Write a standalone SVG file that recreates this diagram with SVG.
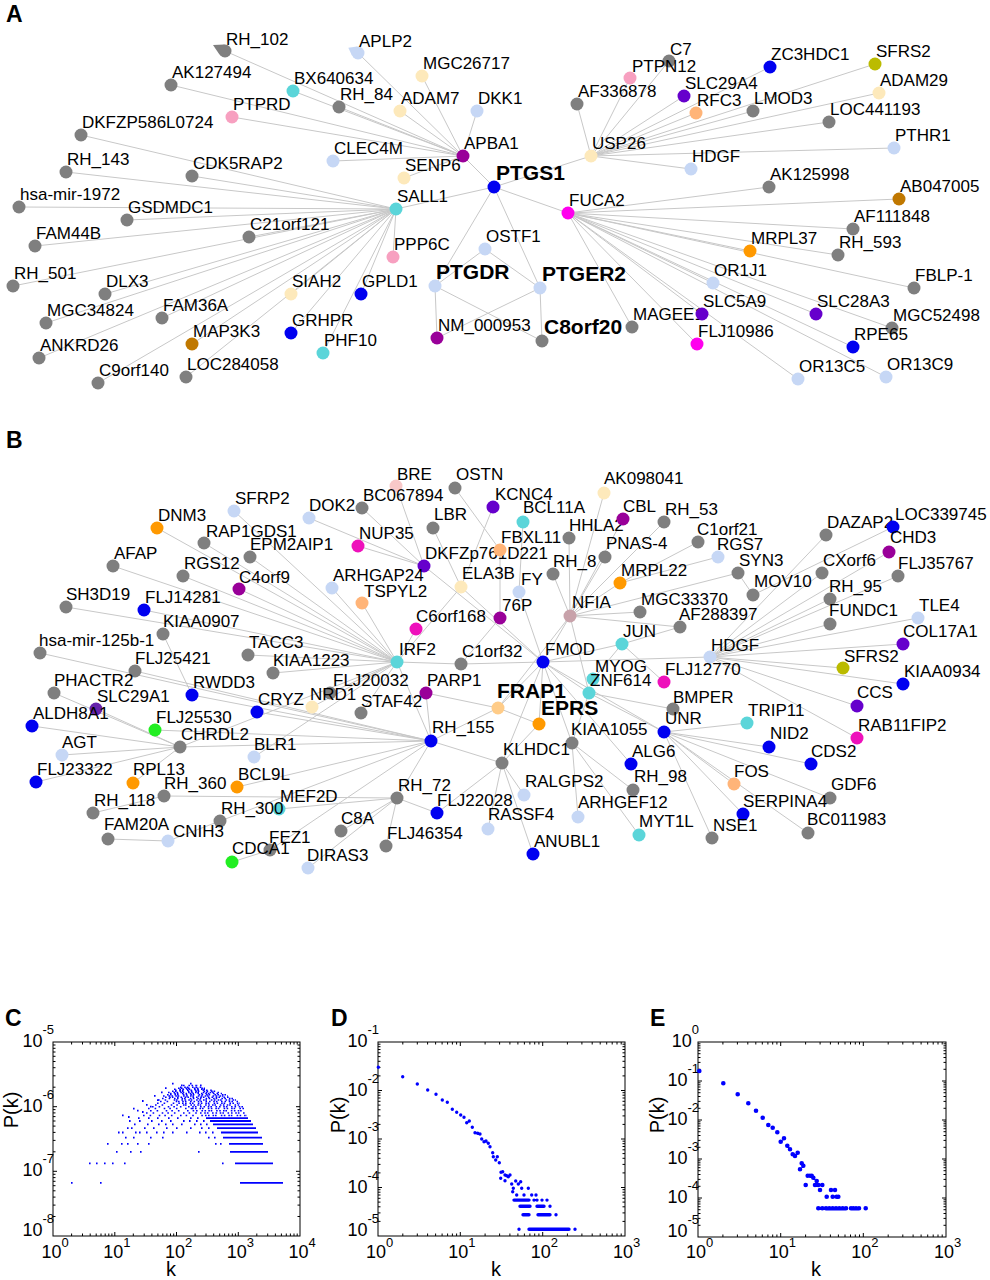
<svg xmlns="http://www.w3.org/2000/svg" width="990" height="1280" viewBox="0 0 990 1280">
<style>
text{font-family:"Liberation Sans",Arial,Helvetica,sans-serif;fill:#000}
.t{font-size:17px}
.b{font-size:21px;font-weight:bold}
.pl{font-size:23px;font-weight:bold}
.tk{font-size:18px}
.ex{font-size:13px}
.ax{font-size:20px}
.g{fill:#7f7f7f}.lb{fill:#c6d7f5}.cr{fill:#fde9bb}.cy{fill:#5bd5d9}.bl{fill:#0000f0}.pu{fill:#990099}.mg{fill:#ff00ee}.hp{fill:#ee11bb}.pk{fill:#f7a0c0}.or{fill:#ff9900}.br{fill:#c07800}.ol{fill:#bbbb00}.vi{fill:#6600cc}.v2{fill:#6622aa}.lo{fill:#ffb478}.fr{fill:#ffcc88}.gr{fill:#22ee22}.mv{fill:#c8a2aa}.lp{fill:#f8c8c8}
.e{fill:none;stroke:#c8c8c8;stroke-width:1}
.tick{fill:none;stroke:#000;stroke-width:1}
.box{fill:none;stroke:#000;stroke-width:1}
.dc{fill:none;stroke:#0000ff;stroke-width:1.8}
.c1{fill:none;stroke:#0000ff;stroke-width:1.5;stroke-dasharray:1.6 1.4 1.6 2.9 1.6 0.9 1.6 4.2}
.c2{fill:none;stroke:#0000ff;stroke-width:1.5;stroke-dasharray:1.6 2.6 1.6 1.1 1.6 3.5 1.6 1.9}
.c3{fill:none;stroke:#0000ff;stroke-width:1.5;stroke-dasharray:1.6 3.8 1.6 1.5 1.6 2.2 1.6 0.8}
.cs{fill:none;stroke:#0000ff;stroke-width:1.5;stroke-dasharray:1.6 5 1.6 7.5 1.6 4}
.dd{fill:none;stroke:#0000ff;stroke-width:3.4;stroke-linecap:round}
.de{fill:none;stroke:#0000ff;stroke-width:4.6;stroke-linecap:round}
</style>
<rect width="990" height="1280" fill="#fff"/>

<g id="connectors">
<path class="e" d="M463 156L225 51M463 156L358 53M463 156L422 76M463 156L171 85M463 156L293 91M463 156L339 107M463 156L400 111M463 156L477 111M463 156L232 117M463 156L333 161M463 156L404 178M463 156L494 187"/>
<path class="e" d="M396 209L81 135M396 209L66 172M396 209L192 176M396 209L19 207M396 209L127 220M396 209L35 246M396 209L249 237M396 209L13 286M396 209L105 294M396 209L46 323M396 209L162 318M396 209L39 358M396 209L98 383M396 209L186 377M396 209L192 344M396 209L291 294M396 209L291 333M396 209L323 353M396 209L361 294M396 209L393 257M396 209L494 187"/>
<path class="e" d="M494 187L591 156M494 187L568 213M494 187L435 286M494 187L540 288M485 249L435 286M485 249L540 288M435 286L437 338M435 286L542 341M540 288L437 338M540 288L542 341"/>
<path class="e" d="M591 156L577 104M591 156L669 61M591 156L630 78M591 156L684 96M591 156L770 67M591 156L696 113M591 156L753 111M591 156L875 64M591 156L879 93M591 156L829 122M591 156L894 148M591 156L691 169"/>
<path class="e" d="M568 213L769 187M568 213L899 199M568 213L853 229M568 213L750 251M568 213L838 255M568 213L914 288M568 213L713 283M568 213L702 314M568 213L816 314M568 213L892 328M568 213L853 347M568 213L798 379M568 213L886 377M568 213L697 344M568 213L632 327"/>
<path class="e" d="M397 662L157 528M397 662L234 511M397 662L204 543M397 662L113 566M397 662L183 576M397 662L239 589M397 662L66 607M397 662L144 610M397 662L248 655M397 662L273 673M397 662L416 629M397 662L362 603M397 662L461 587M397 662L332 588M397 662L461 664M397 662L250 557M397 662L312 707M397 662L361 713M397 662L330 693M397 662L180 747M397 662L254 757M397 662L431 741"/>
<path class="e" d="M431 741L40 653M431 741L135 671M431 741L192 695M431 741L257 712M431 741L155 730M431 741L180 747M431 741L426 693M431 741L498 708M431 741L220 821M431 741L270 850M431 741L397 798M431 741L502 763M431 741L237 787"/>
<path class="e" d="M180 747L32 726M180 747L62 755M180 747L36 782M180 747L96 709M180 747L54 693M180 747L133 783M192 695L163 634M164 796L93 813M164 796L397 798M397 798L279 809M397 798L341 831M397 798L386 846M397 798L437 813M397 798L308 868M220 821L168 841M168 841L108 839M270 850L232 862"/>
<path class="e" d="M424 566L309 518M424 566L358 546M424 566L362 508M424 566L396 486M424 566L543 662M461 587L433 528M461 587L493 507M461 587L543 662M500 550L455 488M500 550L500 618M523 522L519 592M519 592L543 662M500 618L461 664M461 664L543 662"/>
<path class="e" d="M570 616L569 538M570 616L604 493M570 616L623 519M570 616L664 522M570 616L605 557M570 616L620 583M570 616L553 574M570 616L640 612M570 616L680 627M570 616L738 573M570 616L543 662M570 616L498 708M570 616L589 693M620 583L698 542M620 583L718 557M738 573L753 595M753 595L893 527"/>
<path class="e" d="M543 662L710 657M543 662L622 644M543 662L498 708M543 662L539 724M543 662L589 693M543 662L664 732M543 662L502 763M543 662L572 743M543 662L631 764M622 644L593 679M622 644L680 627M622 644L664 682"/>
<path class="e" d="M710 657L826 535M710 657L889 552M710 657L822 573M710 657L898 576M710 657L830 599M710 657L830 624M710 657L918 618M710 657L903 644M710 657L843 668M710 657L903 684M710 657L857 706M710 657L857 738"/>
<path class="e" d="M589 693L673 709M589 693L572 743M664 732L747 723M664 732L769 747M664 732L811 764M664 732L734 784M664 732L830 798M664 732L743 814M664 732L808 833M664 732L712 838M664 732L589 693M572 743L633 790M572 743L578 817M572 743L639 835M502 763L524 795M502 763L488 829M502 763L533 854M502 763L437 813M502 763L539 724M426 693L498 708M498 708L539 724"/>
</g>

<text class="pl" x="6" y="22">A</text>
<g id="a-RH_102"><path class="g" d="M213 45L219.6 54.7L224.7 44.5Z"/><circle class="g" cx="225" cy="51" r="6.5"/><text class="t" x="226" y="45">RH_102</text></g>
<g id="a-APLP2"><path class="lb" d="M348.3 47.7L352.2 56L357.2 46.6Z"/><circle class="lb" cx="358" cy="53" r="6.5"/><text class="t" x="359" y="47">APLP2</text></g>
<g id="a-MGC26717"><circle class="cr" cx="422" cy="76" r="6.5"/><text class="t" x="423" y="69">MGC26717</text></g>
<g id="a-AK127494"><circle class="g" cx="171" cy="85" r="6.5"/><text class="t" x="172" y="78">AK127494</text></g>
<g id="a-BX640634"><circle class="cy" cx="293" cy="91" r="6.5"/><text class="t" x="294" y="84">BX640634</text></g>
<g id="a-RH_84"><circle class="g" cx="339" cy="107" r="6.5"/><text class="t" x="340" y="100">RH_84</text></g>
<g id="a-ADAM7"><circle class="cr" cx="400" cy="111" r="6.5"/><text class="t" x="401" y="104">ADAM7</text></g>
<g id="a-DKK1"><circle class="lb" cx="477" cy="111" r="6.5"/><text class="t" x="478" y="104">DKK1</text></g>
<g id="a-PTPRD"><circle class="pk" cx="232" cy="117" r="6.5"/><text class="t" x="233" y="110">PTPRD</text></g>
<g id="a-DKFZP586L0724"><circle class="g" cx="81" cy="135" r="6.5"/><text class="t" x="82" y="128">DKFZP586L0724</text></g>
<g id="a-CLEC4M"><circle class="lb" cx="333" cy="161" r="6.5"/><text class="t" x="334" y="154">CLEC4M</text></g>
<g id="a-APBA1"><circle class="pu" cx="463" cy="156" r="6.5"/><text class="t" x="464" y="149">APBA1</text></g>
<g id="a-RH_143"><circle class="g" cx="66" cy="172" r="6.5"/><text class="t" x="67" y="165">RH_143</text></g>
<g id="a-CDK5RAP2"><circle class="g" cx="192" cy="176" r="6.5"/><text class="t" x="193" y="169">CDK5RAP2</text></g>
<g id="a-SENP6"><circle class="cr" cx="404" cy="178" r="6.5"/><text class="t" x="405" y="171">SENP6</text></g>
<g id="a-PTGS1"><circle class="bl" cx="494" cy="187" r="6.5"/><text class="b" x="496" y="180">PTGS1</text></g>
<g id="a-hsa-mir-1972"><circle class="g" cx="19" cy="207" r="6.5"/><text class="t" x="20" y="200">hsa-mir-1972</text></g>
<g id="a-GSDMDC1"><circle class="g" cx="127" cy="220" r="6.5"/><text class="t" x="128" y="213">GSDMDC1</text></g>
<g id="a-SALL1"><circle class="cy" cx="396" cy="209" r="6.5"/><text class="t" x="397" y="202">SALL1</text></g>
<g id="a-FAM44B"><circle class="g" cx="35" cy="246" r="6.5"/><text class="t" x="36" y="239">FAM44B</text></g>
<g id="a-C21orf121"><circle class="g" cx="249" cy="237" r="6.5"/><text class="t" x="250" y="230">C21orf121</text></g>
<g id="a-PPP6C"><circle class="pk" cx="393" cy="257" r="6.5"/><text class="t" x="394" y="250">PPP6C</text></g>
<g id="a-OSTF1"><circle class="lb" cx="485" cy="249" r="6.5"/><text class="t" x="486" y="242">OSTF1</text></g>
<g id="a-RH_501"><circle class="g" cx="13" cy="286" r="6.5"/><text class="t" x="14" y="279">RH_501</text></g>
<g id="a-DLX3"><circle class="g" cx="105" cy="294" r="6.5"/><text class="t" x="106" y="287">DLX3</text></g>
<g id="a-SIAH2"><circle class="cr" cx="291" cy="294" r="6.5"/><text class="t" x="292" y="287">SIAH2</text></g>
<g id="a-GPLD1"><circle class="bl" cx="361" cy="294" r="6.5"/><text class="t" x="362" y="287">GPLD1</text></g>
<g id="a-PTGDR"><circle class="lb" cx="435" cy="286" r="6.5"/><text class="b" x="436" y="279">PTGDR</text></g>
<g id="a-MGC34824"><circle class="g" cx="46" cy="323" r="6.5"/><text class="t" x="47" y="316">MGC34824</text></g>
<g id="a-FAM36A"><circle class="g" cx="162" cy="318" r="6.5"/><text class="t" x="163" y="311">FAM36A</text></g>
<g id="a-GRHPR"><circle class="bl" cx="291" cy="333" r="6.5"/><text class="t" x="292" y="326">GRHPR</text></g>
<g id="a-NM_000953"><circle class="pu" cx="437" cy="338" r="6.5"/><text class="t" x="438" y="331">NM_000953</text></g>
<g id="a-MAP3K3"><circle class="br" cx="192" cy="344" r="6.5"/><text class="t" x="193" y="337">MAP3K3</text></g>
<g id="a-PHF10"><circle class="cy" cx="323" cy="353" r="6.5"/><text class="t" x="324" y="346">PHF10</text></g>
<g id="a-ANKRD26"><circle class="g" cx="39" cy="358" r="6.5"/><text class="t" x="40" y="351">ANKRD26</text></g>
<g id="a-C9orf140"><circle class="g" cx="98" cy="383" r="6.5"/><text class="t" x="99" y="376">C9orf140</text></g>
<g id="a-LOC284058"><circle class="g" cx="186" cy="377" r="6.5"/><text class="t" x="187" y="370">LOC284058</text></g>
<g id="a-C7"><circle class="g" cx="669" cy="61" r="6.5"/><text class="t" x="670" y="55">C7</text></g>
<g id="a-PTPN12"><circle class="pk" cx="630" cy="78" r="6.5"/><text class="t" x="632" y="72">PTPN12</text></g>
<g id="a-ZC3HDC1"><circle class="bl" cx="770" cy="67" r="6.5"/><text class="t" x="771" y="60">ZC3HDC1</text></g>
<g id="a-SFRS2"><circle class="ol" cx="875" cy="64" r="6.5"/><text class="t" x="876" y="57">SFRS2</text></g>
<g id="a-SLC29A4"><circle class="vi" cx="684" cy="96" r="6.5"/><text class="t" x="685" y="89">SLC29A4</text></g>
<g id="a-AF336878"><circle class="g" cx="577" cy="104" r="6.5"/><text class="t" x="578" y="97">AF336878</text></g>
<g id="a-RFC3"><circle class="lo" cx="696" cy="113" r="6.5"/><text class="t" x="697" y="106">RFC3</text></g>
<g id="a-LMOD3"><circle class="g" cx="753" cy="111" r="6.5"/><text class="t" x="754" y="104">LMOD3</text></g>
<g id="a-ADAM29"><circle class="cr" cx="879" cy="93" r="6.5"/><text class="t" x="880" y="86">ADAM29</text></g>
<g id="a-LOC441193"><circle class="g" cx="829" cy="122" r="6.5"/><text class="t" x="830" y="115">LOC441193</text></g>
<g id="a-USP26"><circle class="cr" cx="591" cy="156" r="6.5"/><text class="t" x="592" y="149">USP26</text></g>
<g id="a-PTHR1"><circle class="lb" cx="894" cy="148" r="6.5"/><text class="t" x="895" y="141">PTHR1</text></g>
<g id="a-HDGF"><circle class="lb" cx="691" cy="169" r="6.5"/><text class="t" x="692" y="162">HDGF</text></g>
<g id="a-AK125998"><circle class="g" cx="769" cy="187" r="6.5"/><text class="t" x="770" y="180">AK125998</text></g>
<g id="a-AB047005"><circle class="br" cx="899" cy="199" r="6.5"/><text class="t" x="900" y="192">AB047005</text></g>
<g id="a-FUCA2"><circle class="mg" cx="568" cy="213" r="6.5"/><text class="t" x="569" y="206">FUCA2</text></g>
<g id="a-AF111848"><circle class="g" cx="853" cy="229" r="6.5"/><text class="t" x="854" y="222">AF111848</text></g>
<g id="a-MRPL37"><circle class="or" cx="750" cy="251" r="6.5"/><text class="t" x="751" y="244">MRPL37</text></g>
<g id="a-RH_593"><circle class="g" cx="838" cy="255" r="6.5"/><text class="t" x="839" y="248">RH_593</text></g>
<g id="a-OR1J1"><circle class="lb" cx="713" cy="283" r="6.5"/><text class="t" x="714" y="276">OR1J1</text></g>
<g id="a-PTGER2"><circle class="lb" cx="540" cy="288" r="6.5"/><text class="b" x="542" y="281">PTGER2</text></g>
<g id="a-FBLP-1"><circle class="g" cx="914" cy="288" r="6.5"/><text class="t" x="915" y="281">FBLP-1</text></g>
<g id="a-MAGEE1"><circle class="g" cx="632" cy="327" r="6.5"/><text class="t" x="633" y="320">MAGEE1</text></g>
<g id="a-SLC5A9"><circle class="vi" cx="702" cy="314" r="6.5"/><text class="t" x="703" y="307">SLC5A9</text></g>
<g id="a-SLC28A3"><circle class="vi" cx="816" cy="314" r="6.5"/><text class="t" x="817" y="307">SLC28A3</text></g>
<g id="a-MGC52498"><circle class="g" cx="892" cy="328" r="6.5"/><text class="t" x="893" y="321">MGC52498</text></g>
<g id="a-C8orf20"><circle class="g" cx="542" cy="341" r="6.5"/><text class="b" x="544" y="334">C8orf20</text></g>
<g id="a-FLJ10986"><circle class="mg" cx="697" cy="344" r="6.5"/><text class="t" x="698" y="337">FLJ10986</text></g>
<g id="a-RPE65"><circle class="bl" cx="853" cy="347" r="6.5"/><text class="t" x="854" y="340">RPE65</text></g>
<g id="a-OR13C5"><circle class="lb" cx="798" cy="379" r="6.5"/><text class="t" x="799" y="372">OR13C5</text></g>
<g id="a-OR13C9"><circle class="lb" cx="886" cy="377" r="6.5"/><text class="t" x="887" y="370">OR13C9</text></g>

<text class="pl" x="6" y="448">B</text>
<g id="b-BRE"><circle class="lp" cx="396" cy="486" r="6.5"/><text class="t" x="397" y="480">BRE</text></g>
<g id="b-OSTN"><circle class="g" cx="455" cy="488" r="6.5"/><text class="t" x="456" y="480">OSTN</text></g>
<g id="b-SFRP2"><circle class="lb" cx="234" cy="511" r="6.5"/><text class="t" x="235" y="504">SFRP2</text></g>
<g id="b-DOK2"><circle class="lb" cx="309" cy="518" r="6.5"/><text class="t" x="309" y="511">DOK2</text></g>
<g id="b-BC067894"><circle class="g" cx="362" cy="508" r="6.5"/><text class="t" x="363" y="501">BC067894</text></g>
<g id="b-KCNC4"><circle class="vi" cx="493" cy="507" r="6.5"/><text class="t" x="495" y="500">KCNC4</text></g>
<g id="b-DNM3"><circle class="or" cx="157" cy="528" r="6.5"/><text class="t" x="158" y="521">DNM3</text></g>
<g id="b-LBR"><circle class="g" cx="433" cy="528" r="6.5"/><text class="t" x="434" y="520">LBR</text></g>
<g id="b-RAP1GDS1"><circle class="g" cx="204" cy="543" r="6.5"/><text class="t" x="206" y="537">RAP1GDS1</text></g>
<g id="b-NUP35"><circle class="hp" cx="358" cy="546" r="6.5"/><text class="t" x="359" y="539">NUP35</text></g>
<g id="b-EPM2AIP1"><circle class="g" cx="250" cy="557" r="6.5"/><text class="t" x="250" y="550">EPM2AIP1</text></g>
<g id="b-AFAP"><circle class="g" cx="113" cy="566" r="6.5"/><text class="t" x="114" y="559">AFAP</text></g>
<g id="b-RGS12"><circle class="g" cx="183" cy="576" r="6.5"/><text class="t" x="184" y="569">RGS12</text></g>
<g id="b-DKFZp761D221"><circle class="vi" cx="424" cy="566" r="6.5"/><text class="t" x="425" y="559">DKFZp761D221</text></g>
<g id="b-ELA3B"><circle class="cr" cx="461" cy="587" r="6.5"/><text class="t" x="462" y="579">ELA3B</text></g>
<g id="b-C4orf9"><circle class="pu" cx="239" cy="589" r="6.5"/><text class="t" x="239" y="583">C4orf9</text></g>
<g id="b-ARHGAP24"><circle class="lb" cx="332" cy="588" r="6.5"/><text class="t" x="333" y="581">ARHGAP24</text></g>
<g id="b-TSPYL2"><circle class="lo" cx="362" cy="603" r="6.5"/><text class="t" x="364" y="597">TSPYL2</text></g>
<g id="b-SH3D19"><circle class="g" cx="66" cy="607" r="6.5"/><text class="t" x="66" y="600">SH3D19</text></g>
<g id="b-FLJ14281"><circle class="bl" cx="144" cy="610" r="6.5"/><text class="t" x="145" y="603">FLJ14281</text></g>
<g id="b-KIAA0907"><circle class="g" cx="163" cy="634" r="6.5"/><text class="t" x="163" y="627">KIAA0907</text></g>
<g id="b-C6orf168"><circle class="hp" cx="416" cy="629" r="6.5"/><text class="t" x="416" y="622">C6orf168</text></g>
<g id="b-hsa-mir-125b-1"><circle class="g" cx="40" cy="653" r="6.5"/><text class="t" x="39" y="646">hsa-mir-125b-1</text></g>
<g id="b-TACC3"><circle class="g" cx="248" cy="655" r="6.5"/><text class="t" x="249" y="648">TACC3</text></g>
<g id="b-FLJ25421"><circle class="g" cx="135" cy="671" r="6.5"/><text class="t" x="135" y="664">FLJ25421</text></g>
<g id="b-KIAA1223"><circle class="g" cx="273" cy="673" r="6.5"/><text class="t" x="273" y="666">KIAA1223</text></g>
<g id="b-IRF2"><circle class="cy" cx="397" cy="662" r="6.5"/><text class="t" x="399" y="655">IRF2</text></g>
<g id="b-C1orf32"><circle class="g" cx="461" cy="664" r="6.5"/><text class="t" x="462" y="657">C1orf32</text></g>
<g id="b-PHACTR2"><circle class="g" cx="54" cy="693" r="6.5"/><text class="t" x="54" y="686">PHACTR2</text></g>
<g id="b-RWDD3"><circle class="bl" cx="192" cy="695" r="6.5"/><text class="t" x="193" y="688">RWDD3</text></g>
<g id="b-FLJ20032"><circle class="g" cx="330" cy="693" r="6.5"/><text class="t" x="333" y="686">FLJ20032</text></g>
<g id="b-PARP1"><circle class="pu" cx="426" cy="693" r="6.5"/><text class="t" x="427" y="686">PARP1</text></g>
<g id="b-SLC29A1"><circle class="v2" cx="96" cy="709" r="6.5"/><text class="t" x="97" y="702">SLC29A1</text></g>
<g id="b-CRYZ"><circle class="bl" cx="257" cy="712" r="6.5"/><text class="t" x="258" y="705">CRYZ</text></g>
<g id="b-NRD1"><circle class="cr" cx="312" cy="707" r="6.5"/><text class="t" x="310" y="700">NRD1</text></g>
<g id="b-STAF42"><circle class="g" cx="361" cy="713" r="6.5"/><text class="t" x="361" y="707">STAF42</text></g>
<g id="b-ALDH8A1"><circle class="bl" cx="32" cy="726" r="6.5"/><text class="t" x="33" y="719">ALDH8A1</text></g>
<g id="b-FLJ25530"><circle class="gr" cx="155" cy="730" r="6.5"/><text class="t" x="156" y="723">FLJ25530</text></g>
<g id="b-CHRDL2"><circle class="g" cx="180" cy="747" r="6.5"/><text class="t" x="181" y="740">CHRDL2</text></g>
<g id="b-RH_155"><circle class="bl" cx="431" cy="741" r="6.5"/><text class="t" x="432" y="733">RH_155</text></g>
<g id="b-AGT"><circle class="lb" cx="62" cy="755" r="6.5"/><text class="t" x="62" y="748">AGT</text></g>
<g id="b-BLR1"><circle class="lb" cx="254" cy="757" r="6.5"/><text class="t" x="254" y="750">BLR1</text></g>
<g id="b-FLJ23322"><circle class="bl" cx="36" cy="782" r="6.5"/><text class="t" x="37" y="775">FLJ23322</text></g>
<g id="b-RPL13"><circle class="or" cx="133" cy="783" r="6.5"/><text class="t" x="133" y="775">RPL13</text></g>
<g id="b-BCL9L"><circle class="or" cx="237" cy="787" r="6.5"/><text class="t" x="238" y="780">BCL9L</text></g>
<g id="b-RH_360"><circle class="g" cx="164" cy="796" r="6.5"/><text class="t" x="164" y="789">RH_360</text></g>
<g id="b-RH_72"><circle class="g" cx="397" cy="798" r="6.5"/><text class="t" x="398" y="791">RH_72</text></g>
<g id="b-RH_118"><circle class="g" cx="93" cy="813" r="6.5"/><text class="t" x="94" y="806">RH_118</text></g>
<g id="b-MEF2D"><circle class="cy" cx="279" cy="809" r="6.5"/><text class="t" x="280" y="802">MEF2D</text></g>
<g id="b-FLJ22028"><circle class="bl" cx="437" cy="813" r="6.5"/><text class="t" x="437" y="806">FLJ22028</text></g>
<g id="b-RH_300"><circle class="g" cx="220" cy="821" r="6.5"/><text class="t" x="221" y="814">RH_300</text></g>
<g id="b-FAM20A"><circle class="g" cx="108" cy="839" r="6.5"/><text class="t" x="104" y="830">FAM20A</text></g>
<g id="b-CNIH3"><circle class="lb" cx="168" cy="841" r="6.5"/><text class="t" x="173" y="837">CNIH3</text></g>
<g id="b-C8A"><circle class="g" cx="341" cy="831" r="6.5"/><text class="t" x="341" y="824">C8A</text></g>
<g id="b-FLJ46354"><circle class="g" cx="386" cy="846" r="6.5"/><text class="t" x="387" y="839">FLJ46354</text></g>
<g id="b-FEZ1"><circle class="g" cx="270" cy="850" r="6.5"/><text class="t" x="269" y="843">FEZ1</text></g>
<g id="b-CDCA1"><circle class="gr" cx="232" cy="862" r="6.5"/><text class="t" x="232" y="854">CDCA1</text></g>
<g id="b-DIRAS3"><circle class="lb" cx="308" cy="868" r="6.5"/><text class="t" x="307" y="861">DIRAS3</text></g>
<g id="b-RASSF4"><circle class="lb" cx="488" cy="829" r="6.5"/><text class="t" x="488" y="820">RASSF4</text></g>
<g id="b-FRAP1"><circle class="fr" cx="498" cy="708" r="6.5"/><text class="b" x="497" y="698">FRAP1</text></g>
<g id="b-EPRS"><circle class="or" cx="539" cy="724" r="6.5"/><text class="b" x="541" y="715">EPRS</text></g>
<g id="b-FY"><circle class="lb" cx="519" cy="592" r="6.5"/><text class="t" x="521" y="585">FY</text></g>
<g id="b-RH_8"><circle class="g" cx="553" cy="574" r="6.5"/><text class="t" x="553" y="567">RH_8</text></g>
<g id="b-PNAS-4"><circle class="g" cx="605" cy="557" r="6.5"/><text class="t" x="606" y="549">PNAS-4</text></g>
<g id="b-MRPL22"><circle class="or" cx="620" cy="583" r="6.5"/><text class="t" x="621" y="576">MRPL22</text></g>
<g id="b-76P"><circle class="pu" cx="500" cy="618" r="6.5"/><text class="t" x="502" y="611">76P</text></g>
<g id="b-NFIA"><circle class="mv" cx="570" cy="616" r="6.5"/><text class="t" x="572" y="608">NFIA</text></g>
<g id="b-FMOD"><circle class="bl" cx="543" cy="662" r="6.5"/><text class="t" x="545" y="655">FMOD</text></g>
<g id="b-JUN"><circle class="cy" cx="622" cy="644" r="6.5"/><text class="t" x="623" y="637">JUN</text></g>
<g id="b-MYOG"><circle class="cy" cx="593" cy="679" r="6.5"/><text class="t" x="595" y="672">MYOG</text></g>
<g id="b-ZNF614"><circle class="cy" cx="589" cy="693" r="6.5"/><text class="t" x="590" y="686">ZNF614</text></g>
<g id="b-AK098041"><circle class="cr" cx="604" cy="493" r="6.5"/><text class="t" x="604" y="484">AK098041</text></g>
<g id="b-BCL11A"><circle class="cy" cx="523" cy="522" r="6.5"/><text class="t" x="523" y="513">BCL11A</text></g>
<g id="b-HHLA2"><circle class="g" cx="569" cy="538" r="6.5"/><text class="t" x="569" y="531">HHLA2</text></g>
<g id="b-CBL"><circle class="pu" cx="623" cy="519" r="6.5"/><text class="t" x="623" y="512">CBL</text></g>
<g id="b-RH_53"><circle class="g" cx="664" cy="522" r="6.5"/><text class="t" x="665" y="515">RH_53</text></g>
<g id="b-FBXL11"><circle class="lo" cx="500" cy="550" r="6.5"/><text class="t" x="501" y="543">FBXL11</text></g>
<g id="b-C1orf21"><circle class="g" cx="698" cy="542" r="6.5"/><text class="t" x="697" y="535">C1orf21</text></g>
<g id="b-DAZAP2"><circle class="g" cx="826" cy="535" r="6.5"/><text class="t" x="827" y="528">DAZAP2</text></g>
<g id="b-LOC339745"><circle class="bl" cx="893" cy="527" r="6.5"/><text class="t" x="895" y="520">LOC339745</text></g>
<g id="b-CHD3"><circle class="pu" cx="889" cy="552" r="6.5"/><text class="t" x="890" y="543">CHD3</text></g>
<g id="b-RGS7"><circle class="lb" cx="718" cy="557" r="6.5"/><text class="t" x="717" y="550">RGS7</text></g>
<g id="b-SYN3"><circle class="g" cx="738" cy="573" r="6.5"/><text class="t" x="739" y="566">SYN3</text></g>
<g id="b-CXorf6"><circle class="g" cx="822" cy="573" r="6.5"/><text class="t" x="823" y="566">CXorf6</text></g>
<g id="b-FLJ35767"><circle class="g" cx="898" cy="576" r="6.5"/><text class="t" x="898" y="569">FLJ35767</text></g>
<g id="b-MOV10"><circle class="g" cx="753" cy="595" r="6.5"/><text class="t" x="754" y="587">MOV10</text></g>
<g id="b-RH_95"><circle class="g" cx="830" cy="599" r="6.5"/><text class="t" x="829" y="592">RH_95</text></g>
<g id="b-MGC33370"><circle class="g" cx="640" cy="612" r="6.5"/><text class="t" x="641" y="605">MGC33370</text></g>
<g id="b-TLE4"><circle class="lb" cx="918" cy="618" r="6.5"/><text class="t" x="919" y="611">TLE4</text></g>
<g id="b-FUNDC1"><circle class="g" cx="830" cy="624" r="6.5"/><text class="t" x="829" y="616">FUNDC1</text></g>
<g id="b-AF288397"><circle class="g" cx="680" cy="627" r="6.5"/><text class="t" x="679" y="620">AF288397</text></g>
<g id="b-COL17A1"><circle class="vi" cx="903" cy="644" r="6.5"/><text class="t" x="903" y="637">COL17A1</text></g>
<g id="b-HDGF"><circle class="lb" cx="710" cy="657" r="6.5"/><text class="t" x="711" y="651">HDGF</text></g>
<g id="b-SFRS2"><circle class="ol" cx="843" cy="668" r="6.5"/><text class="t" x="844" y="662">SFRS2</text></g>
<g id="b-FLJ12770"><circle class="hp" cx="664" cy="682" r="6.5"/><text class="t" x="665" y="675">FLJ12770</text></g>
<g id="b-KIAA0934"><circle class="bl" cx="903" cy="684" r="6.5"/><text class="t" x="904" y="677">KIAA0934</text></g>
<g id="b-CCS"><circle class="vi" cx="857" cy="706" r="6.5"/><text class="t" x="857" y="698">CCS</text></g>
<g id="b-BMPER"><circle class="g" cx="673" cy="709" r="6.5"/><text class="t" x="673" y="703">BMPER</text></g>
<g id="b-TRIP11"><circle class="cy" cx="747" cy="723" r="6.5"/><text class="t" x="748" y="716">TRIP11</text></g>
<g id="b-UNR"><circle class="bl" cx="664" cy="732" r="6.5"/><text class="t" x="665" y="724">UNR</text></g>
<g id="b-RAB11FIP2"><circle class="hp" cx="857" cy="738" r="6.5"/><text class="t" x="858" y="731">RAB11FIP2</text></g>
<g id="b-KIAA1055"><circle class="g" cx="572" cy="743" r="6.5"/><text class="t" x="571" y="735">KIAA1055</text></g>
<g id="b-NID2"><circle class="bl" cx="769" cy="747" r="6.5"/><text class="t" x="770" y="739">NID2</text></g>
<g id="b-KLHDC1"><circle class="g" cx="502" cy="763" r="6.5"/><text class="t" x="503" y="755">KLHDC1</text></g>
<g id="b-ALG6"><circle class="bl" cx="631" cy="764" r="6.5"/><text class="t" x="632" y="757">ALG6</text></g>
<g id="b-CDS2"><circle class="bl" cx="811" cy="764" r="6.5"/><text class="t" x="811" y="757">CDS2</text></g>
<g id="b-FOS"><circle class="lo" cx="734" cy="784" r="6.5"/><text class="t" x="734" y="777">FOS</text></g>
<g id="b-RH_98"><circle class="g" cx="633" cy="790" r="6.5"/><text class="t" x="634" y="782">RH_98</text></g>
<g id="b-GDF6"><circle class="g" cx="830" cy="798" r="6.5"/><text class="t" x="831" y="790">GDF6</text></g>
<g id="b-RALGPS2"><circle class="lb" cx="524" cy="795" r="6.5"/><text class="t" x="525" y="787">RALGPS2</text></g>
<g id="b-ARHGEF12"><circle class="lb" cx="578" cy="817" r="6.5"/><text class="t" x="578" y="808">ARHGEF12</text></g>
<g id="b-SERPINA4"><circle class="bl" cx="743" cy="814" r="6.5"/><text class="t" x="743" y="807">SERPINA4</text></g>
<g id="b-BC011983"><circle class="g" cx="808" cy="833" r="6.5"/><text class="t" x="807" y="825">BC011983</text></g>
<g id="b-MYT1L"><circle class="cy" cx="639" cy="835" r="6.5"/><text class="t" x="639" y="827">MYT1L</text></g>
<g id="b-NSE1"><circle class="g" cx="712" cy="838" r="6.5"/><text class="t" x="713" y="831">NSE1</text></g>
<g id="b-ANUBL1"><circle class="bl" cx="533" cy="854" r="6.5"/><text class="t" x="534" y="847">ANUBL1</text></g>

<g id="plotC">
<text class="pl" x="5" y="1026">C</text>
<rect class="box" x="53" y="1042" width="247" height="194"/>
<path id="cb" class="tick" d="M114.8 1236v-4M176.5 1236v-4M238.3 1236v-4M71.6 1236v-2.5M82.5 1236v-2.5M90.2 1236v-2.5M96.2 1236v-2.5M101 1236v-2.5M105.2 1236v-2.5M108.8 1236v-2.5M111.9 1236v-2.5M133.3 1236v-2.5M144.2 1236v-2.5M151.9 1236v-2.5M157.9 1236v-2.5M162.8 1236v-2.5M166.9 1236v-2.5M170.5 1236v-2.5M173.7 1236v-2.5M195.1 1236v-2.5M206 1236v-2.5M213.7 1236v-2.5M219.7 1236v-2.5M224.6 1236v-2.5M228.7 1236v-2.5M232.3 1236v-2.5M235.4 1236v-2.5M256.8 1236v-2.5M267.7 1236v-2.5M275.4 1236v-2.5M281.4 1236v-2.5M286.3 1236v-2.5M290.4 1236v-2.5M294 1236v-2.5M297.2 1236v-2.5"/>
<use href="#cb" transform="matrix(1 0 0 -1 0 2278)"/>
<path id="cl" class="tick" d="M53 1106.7h4M53 1171.3h4M53 1216.5h2.5M53 1205.1h2.5M53 1197.1h2.5M53 1190.8h2.5M53 1185.7h2.5M53 1181.3h2.5M53 1177.6h2.5M53 1174.3h2.5M53 1151.8h2.5M53 1140.4h2.5M53 1132.4h2.5M53 1126.1h2.5M53 1121h2.5M53 1116.6h2.5M53 1112.9h2.5M53 1109.6h2.5M53 1087.2h2.5M53 1075.8h2.5M53 1067.7h2.5M53 1061.5h2.5M53 1056.3h2.5M53 1052h2.5M53 1048.3h2.5M53 1045h2.5"/>
<use href="#cl" transform="matrix(-1 0 0 1 353 0)"/>
<text class="tk" x="41.5" y="1258">10<tspan class="ex" dy="-11">0</tspan></text>
<text class="tk" x="103.3" y="1258">10<tspan class="ex" dy="-11">1</tspan></text>
<text class="tk" x="165" y="1258">10<tspan class="ex" dy="-11">2</tspan></text>
<text class="tk" x="226.8" y="1258">10<tspan class="ex" dy="-11">3</tspan></text>
<text class="tk" x="288.5" y="1258">10<tspan class="ex" dy="-11">4</tspan></text>
<text class="tk" text-anchor="end" x="54" y="1047">10<tspan class="ex" dy="-13">-5</tspan></text>
<text class="tk" text-anchor="end" x="54" y="1111.7">10<tspan class="ex" dy="-13">-6</tspan></text>
<text class="tk" text-anchor="end" x="54" y="1176.3">10<tspan class="ex" dy="-13">-7</tspan></text>
<text class="tk" text-anchor="end" x="54" y="1236">10<tspan class="ex" dy="-13">-8</tspan></text>
<text class="ax" text-anchor="middle" x="171" y="1276">k</text>
<text class="ax" text-anchor="middle" transform="translate(18 1110) rotate(-90)">P(k)</text>
<path class="dc" d="M71 1182.8h1.6M100 1182.8h1.6M89 1163.3h1.6M96 1163.3h1.6M104 1163.3h1.6M112 1163.3h1.6M124 1163.3h1.6M222 1163.3h1.6M116 1151.9h1.6M130 1151.9h1.6M140 1151.9h1.6M198 1151.9h1.6M107 1143.8h1.6M121 1143.8h1.6M127 1143.8h1.6M137 1143.8h1.6M148 1143.8h1.6M215 1143.8h1.6M220 1143.8h1.6M125 1137.6h1.6M133 1137.6h1.6M150 1137.6h1.6M162 1137.6h1.6M208 1137.6h1.6M214 1137.6h1.6M118 1132.5h1.6M122 1132.5h1.6M135 1132.5h1.6M139 1132.5h1.6M146 1132.5h1.6M156 1132.5h1.6M163 1132.5h1.6M172 1132.5h1.6M186 1132.5h1.6M199 1132.5h1.6M205 1132.5h1.6M212 1132.5h1.6M127 1128.1h1.6M131 1128.1h1.6M144 1128.1h1.6M153 1128.1h1.6M166 1128.1h1.6M176 1128.1h1.6M190 1128.1h1.6M201 1128.1h1.6M208 1128.1h1.6M134 1124.4h1.6M147 1124.4h1.6M158 1124.4h1.6M165 1124.4h1.6M172 1124.4h1.6M181 1124.4h1.6M194 1124.4h1.6M200 1124.4h1.6M206 1124.4h1.6M129 1121h1.6M139 1121h1.6M151 1121h1.6M161 1121h1.6M170 1121h1.6M183 1121h1.6M189 1121h1.6M196 1121h1.6M203 1121h1.6M138 1118.1h1.6M148 1118.1h1.6M157 1118.1h1.6M168 1118.1h1.6M177 1118.1h1.6M190 1118.1h1.6M197 1118.1h1.6M122 1115.4h1.6M128 1117h1.6M133 1108.6h1.6M142 1112h1.6M142 1101h1.6M150 1106.7h1.6M157 1100.1h1.6M161 1092.4h1.6M172 1083.7h1.6M181 1085.4h1.6M200 1085.4h1.6M165 1088.2h1.6M154 1095.9h1.6M146 1104.9h1.6M137 1110.7h1.6M190 1083.7h1.6"/>
<path class="dc" d="M240 1182.8H283M235 1163.3H273M230 1151.9H268M229 1143.8H263M223 1137.6H262M221 1132.5H258M217 1128.1H256M213 1124.4H253M210 1121H251M206 1118.1H248"/>
<path class="cs" d="M143 1115.4H205M146 1113H200M150 1110.7H196M148 1108.6H192M152 1106.7H188M155 1104.9H185M157 1103.2H182M160 1101.6H178M158 1100.1H176M162 1098.6H174"/>
<path class="c1" d="M205 1115.4H247M192 1108.6H244M182 1103.2H240M174 1098.6H234M167 1094.7H226M172 1091.3H216M178 1088.2H205"/>
<path class="c2" d="M200 1113H246M188 1106.7H243M178 1101.6H238M165 1097.3H231M170 1093.5H222M175 1090.2H212M180 1087.2H202"/>
<path class="c3" d="M196 1110.7H245M185 1104.9H241M176 1100.1H236M163 1095.9H228M168 1092.4H219M174 1089.2H208M183 1085.4H198"/>
</g>

<g id="plotD">
<text class="pl" x="331" y="1026">D</text>
<rect class="box" x="378" y="1042" width="247" height="194"/>
<path id="db" class="tick" d="M460.3 1236v-4M542.7 1236v-4M402.8 1236v-2.5M417.3 1236v-2.5M427.6 1236v-2.5M435.6 1236v-2.5M442.1 1236v-2.5M447.6 1236v-2.5M452.4 1236v-2.5M456.6 1236v-2.5M485.1 1236v-2.5M499.6 1236v-2.5M509.9 1236v-2.5M517.9 1236v-2.5M524.4 1236v-2.5M529.9 1236v-2.5M534.7 1236v-2.5M538.9 1236v-2.5M567.4 1236v-2.5M581.9 1236v-2.5M592.2 1236v-2.5M600.2 1236v-2.5M606.7 1236v-2.5M612.2 1236v-2.5M617 1236v-2.5M621.2 1236v-2.5"/>
<use href="#db" transform="matrix(1 0 0 -1 0 2278)"/>
<path id="dl" class="tick" d="M378 1187.5h4M378 1139h4M378 1090.5h4M378 1221.4h2.5M378 1212.9h2.5M378 1206.8h2.5M378 1202.1h2.5M378 1198.3h2.5M378 1195h2.5M378 1192.2h2.5M378 1189.7h2.5M378 1172.9h2.5M378 1164.4h2.5M378 1158.3h2.5M378 1153.6h2.5M378 1149.8h2.5M378 1146.5h2.5M378 1143.7h2.5M378 1141.2h2.5M378 1124.4h2.5M378 1115.9h2.5M378 1109.8h2.5M378 1105.1h2.5M378 1101.3h2.5M378 1098h2.5M378 1095.2h2.5M378 1092.7h2.5M378 1075.9h2.5M378 1067.4h2.5M378 1061.3h2.5M378 1056.6h2.5M378 1052.8h2.5M378 1049.5h2.5M378 1046.7h2.5M378 1044.2h2.5"/>
<use href="#dl" transform="matrix(-1 0 0 1 1003 0)"/>
<text class="tk" x="366" y="1258">10<tspan class="ex" dy="-11">0</tspan></text>
<text class="tk" x="448.3" y="1258">10<tspan class="ex" dy="-11">1</tspan></text>
<text class="tk" x="530.7" y="1258">10<tspan class="ex" dy="-11">2</tspan></text>
<text class="tk" x="613" y="1258">10<tspan class="ex" dy="-11">3</tspan></text>
<text class="tk" text-anchor="end" x="379" y="1047">10<tspan class="ex" dy="-13">-1</tspan></text>
<text class="tk" text-anchor="end" x="379" y="1095.5">10<tspan class="ex" dy="-13">-2</tspan></text>
<text class="tk" text-anchor="end" x="379" y="1144">10<tspan class="ex" dy="-13">-3</tspan></text>
<text class="tk" text-anchor="end" x="379" y="1192.5">10<tspan class="ex" dy="-13">-4</tspan></text>
<text class="tk" text-anchor="end" x="379" y="1236">10<tspan class="ex" dy="-13">-5</tspan></text>
<text class="ax" text-anchor="middle" x="496" y="1276">k</text>
<text class="ax" text-anchor="middle" transform="translate(345 1115) rotate(-90)">P(k)</text>
<path class="dd" d="M378.3 1067.3h.01M402.7 1076.7h.01M417.3 1084h.01M427.7 1090h.01M436 1094.3h.01M442.3 1100h.01M447.3 1102.3h.01M452.3 1109.3h.01M456.7 1112.3h.01M460.7 1115h.01M464 1117.3h.01M466.7 1122.7h.01M469.3 1121h.01M472.3 1127.3h.01M475 1132.7h.01M477.7 1133.3h.01M480 1134h.01M481.7 1139h.01M484 1141.7h.01M486 1141h.01M488.3 1143.3h.01M490 1146.7h.01M492.7 1152.7h.01M493.3 1156.7h.01M495.7 1160h.01M497.3 1156.7h.01M499.3 1162.7h.01M501 1172.3h.01M502.7 1171.7h.01M505 1175h.01M506.7 1175.7h.01M508.3 1176.7h.01M510 1175h.01M500.7 1178.3h.01M505 1180.7h.01M511.7 1184h.01M513.3 1188.3h.01M515.7 1181h.01M518.3 1184h.01M520.7 1181.7h.01M521.7 1188.3h.01M512.7 1191.7h.01M516.7 1195h.01M524 1195h.01M528.3 1188.3h.01M531.7 1195h.01M536 1195h.01M514 1200.1H529M534 1200.1h.01M537 1200.1h.01M542 1200.1h.01M547 1200.1h.01M520 1206.2H530M537 1206.2H544M550 1206.2h.01M523 1214.7H529M538 1214.7H550M556 1214.7h.01M519 1229.3h.01M529 1229.3H569M575 1229.3h.01"/>
</g>

<g id="plotE">
<text class="pl" x="650" y="1026">E</text>
<rect class="box" x="698" y="1042" width="248" height="195"/>
<path id="eb" class="tick" d="M780.7 1237v-4M863.3 1237v-4M722.9 1237v-2.5M737.4 1237v-2.5M747.8 1237v-2.5M755.8 1237v-2.5M762.3 1237v-2.5M767.9 1237v-2.5M772.7 1237v-2.5M776.9 1237v-2.5M805.6 1237v-2.5M820.1 1237v-2.5M830.4 1237v-2.5M838.4 1237v-2.5M845 1237v-2.5M850.5 1237v-2.5M855.3 1237v-2.5M859.5 1237v-2.5M888.2 1237v-2.5M902.8 1237v-2.5M913.1 1237v-2.5M921.1 1237v-2.5M927.7 1237v-2.5M933.2 1237v-2.5M938 1237v-2.5M942.2 1237v-2.5"/>
<use href="#eb" transform="matrix(1 0 0 -1 0 2279)"/>
<path id="el" class="tick" d="M698 1198h4M698 1159h4M698 1120h4M698 1081h4M698 1225.3h2.5M698 1218.4h2.5M698 1213.5h2.5M698 1209.7h2.5M698 1206.7h2.5M698 1204h2.5M698 1201.8h2.5M698 1199.8h2.5M698 1186.3h2.5M698 1179.4h2.5M698 1174.5h2.5M698 1170.7h2.5M698 1167.7h2.5M698 1165h2.5M698 1162.8h2.5M698 1160.8h2.5M698 1147.3h2.5M698 1140.4h2.5M698 1135.5h2.5M698 1131.7h2.5M698 1128.7h2.5M698 1126h2.5M698 1123.8h2.5M698 1121.8h2.5M698 1108.3h2.5M698 1101.4h2.5M698 1096.5h2.5M698 1092.7h2.5M698 1089.7h2.5M698 1087h2.5M698 1084.8h2.5M698 1082.8h2.5M698 1069.3h2.5M698 1062.4h2.5M698 1057.5h2.5M698 1053.7h2.5M698 1050.7h2.5M698 1048h2.5M698 1045.8h2.5M698 1043.8h2.5"/>
<use href="#el" transform="matrix(-1 0 0 1 1644 0)"/>
<text class="tk" x="686" y="1258">10<tspan class="ex" dy="-11">0</tspan></text>
<text class="tk" x="768.7" y="1258">10<tspan class="ex" dy="-11">1</tspan></text>
<text class="tk" x="851.3" y="1258">10<tspan class="ex" dy="-11">2</tspan></text>
<text class="tk" x="934" y="1258">10<tspan class="ex" dy="-11">3</tspan></text>
<text class="tk" text-anchor="end" x="699" y="1047">10<tspan class="ex" dy="-13">0</tspan></text>
<text class="tk" text-anchor="end" x="699" y="1086">10<tspan class="ex" dy="-13">-1</tspan></text>
<text class="tk" text-anchor="end" x="699" y="1125">10<tspan class="ex" dy="-13">-2</tspan></text>
<text class="tk" text-anchor="end" x="699" y="1164">10<tspan class="ex" dy="-13">-3</tspan></text>
<text class="tk" text-anchor="end" x="699" y="1203">10<tspan class="ex" dy="-13">-4</tspan></text>
<text class="tk" text-anchor="end" x="699" y="1237">10<tspan class="ex" dy="-13">-5</tspan></text>
<text class="ax" text-anchor="middle" x="816" y="1276">k</text>
<text class="ax" text-anchor="middle" transform="translate(664 1115) rotate(-90)">P(k)</text>
<path class="de" d="M699.3 1071h.01M723.3 1083.3h.01M737.7 1094.3h.01M748.3 1103.3h.01M756 1110.7h.01M762.7 1117.7h.01M768.3 1125h.01M772.7 1127.7h.01M777.3 1132.3h.01M780.7 1141.7h.01M784 1138.3h.01M787.3 1145.7h.01M790 1149.3h.01M792.7 1154.3h.01M795 1156h.01M797.7 1152.7h.01M800 1169.3h.01M801.7 1163.3h.01M803.3 1165.7h.01M805.7 1185h.01M807.7 1175.7h.01M810 1175.7h.01M811.7 1175.7h.01M813.3 1177.7h.01M815 1185h.01M816.7 1181h.01M818.3 1185h.01M820 1190h.01M822.3 1185h.01M826.7 1196.7h.01M831 1190h.01M832.7 1196.7h.01M835 1190h.01M836.7 1196.7h.01M838.3 1196.7h.01M818.3 1208.3h.01M822.3 1208.3h.01M826 1208.3h.01M829.3 1208.3h.01M832.7 1208.3h.01M836 1208.3h.01M839.3 1208.3h.01M842.7 1208.3h.01M846 1208.3h.01M851 1208.3h.01M853.3 1208.3h.01M856 1208.3h.01M859 1208.3h.01M865.7 1208.3h.01"/>
</g>
</svg>
